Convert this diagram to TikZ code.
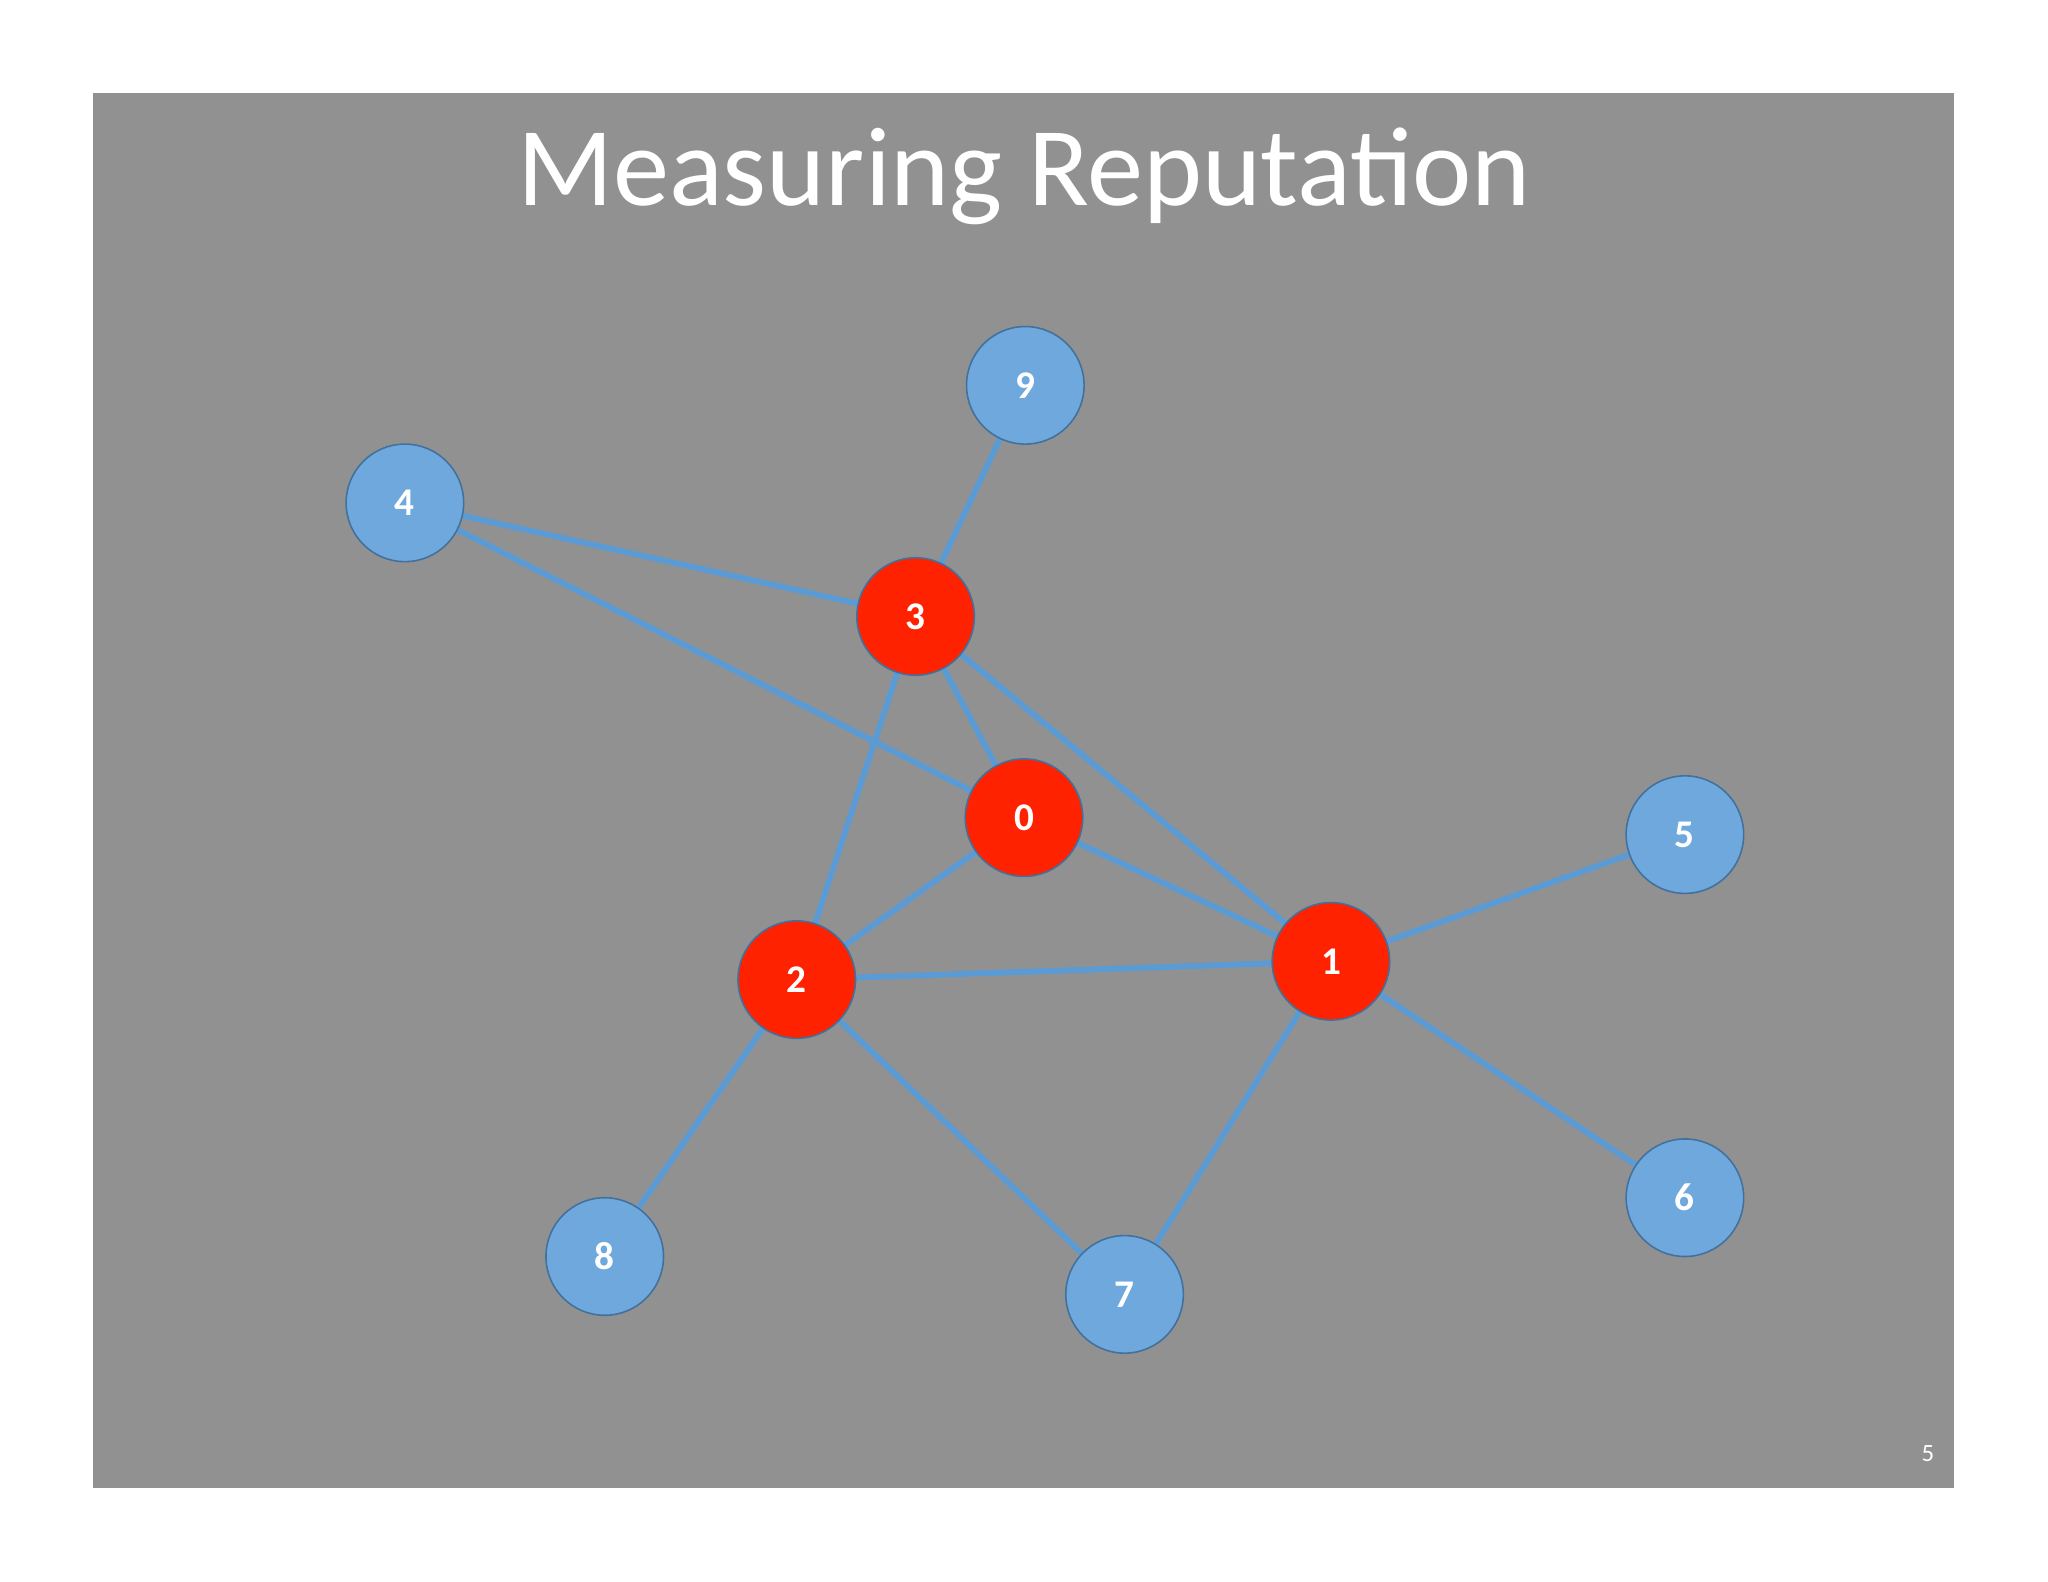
\documentclass[tikz,border=0pt]{standalone}
\usepackage{fontspec}
\setmainfont{Carlito}
\definecolor{bg}{HTML}{919191}
\definecolor{nblue}{HTML}{6FA8DC}
\definecolor{nbord}{HTML}{41719C}
\definecolor{nred}{HTML}{FF2200}
\definecolor{edge}{HTML}{5B9BD5}
\begin{document}
\begin{tikzpicture}[x=1pt,y=-1pt,
  bnode/.style={circle,draw=nbord,line width=1.2pt,fill=nblue,minimum size=90pt,inner sep=0pt,text=white,font=\fontsize{30}{30}\selectfont\bfseries},
  rnode/.style={bnode,fill=nred},
  link/.style={draw=edge,line width=4.5pt}]
\useasboundingbox (0,0) rectangle (1568,1211);
\fill[white] (0,0) rectangle (1568,1211);
\fill[bg] (71,71) rectangle (1496,1139);
\node[text=white,font=\fontsize{86}{86}\selectfont] (title) at (784,135) {Measuring Reputation};
\node[text=white,font=\fontsize{19}{19}\selectfont] (pg) at (1476,1113) {5};
\begin{scope}[on background layer/.style={}]
\coordinate (c9) at (785,295);
\coordinate (c4) at (310,385);
\coordinate (c3) at (701,472);
\coordinate (c0) at (784,626);
\coordinate (c5) at (1290,639);
\coordinate (c1) at (1019,736);
\coordinate (c2) at (610,750);
\coordinate (c6) at (1290,917);
\coordinate (c8) at (463,962);
\coordinate (c7) at (861,991);
\foreach \a/\b in {9/3,4/3,4/0,3/0,3/2,3/1,0/2,0/1,2/1,1/5,1/6,1/7,2/8,2/7}
  \draw[link] (c\a) -- (c\b);
\end{scope}
\foreach \n in {9,4,5,6,8,7} \node[bnode] (n\n) at (c\n) {\n};
\foreach \n in {3,0,1,2} \node[rnode] (n\n) at (c\n) {\n};
\end{tikzpicture}
\end{document}
